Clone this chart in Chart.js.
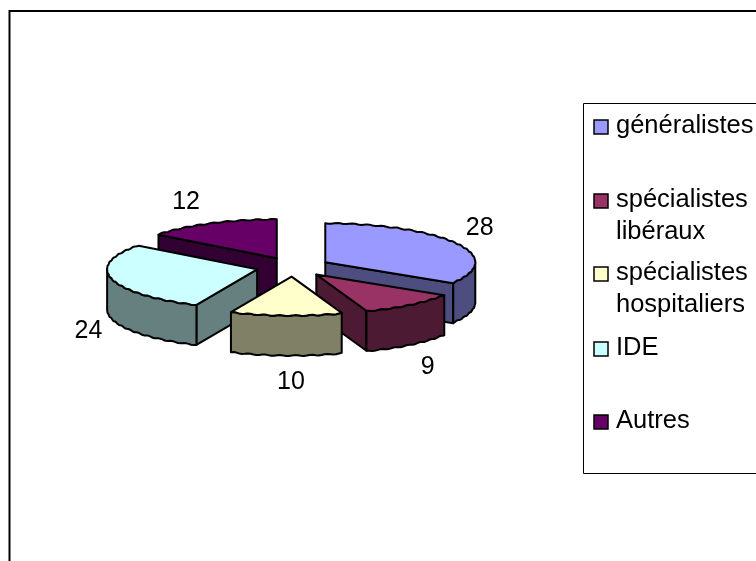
<!DOCTYPE html>
<html lang="fr">
<head>
  <meta charset="UTF-8" />
  <title>Répartition</title>
  <script src="https://cdn.jsdelivr.net/npm/chart.js"></script>
  <style>
    body { margin: 0; background: #fff; overflow: hidden; }
    canvas { display: block; }
  </style>
</head>
<body>
  <canvas id="camembert" width="756" height="561"></canvas>

  <script>
    const categories = ["généralistes", "spécialistes libéraux", "spécialistes hospitaliers", "IDE", "Autres"];
    const valeurs = [28, 9, 10, 24, 12];
    const couleurs = ["#9999FF", "#993366", "#FFFFCC", "#CCFFFF", "#660066"];

    const FONT = "25px 'Liberation Sans', Arial, sans-serif";
    const FONT_LEGENDE = "25.5px 'Liberation Sans', Arial, sans-serif";
    const TILT = 0.26;     // aplatissement vertical de l'ellipse
    const DEPTH = 40;      // hauteur des parts

    // couleur des flancs : moitié de la couleur de la part
    function sombre(hex) {
      const n = parseInt(hex.slice(1), 16);
      const c = [n >> 16, (n >> 8) & 255, n & 255].map(v => Math.round(v / 2));
      return `rgb(${c[0]},${c[1]},${c[2]})`;
    }

    function polygone(ctx, pts, fill) {
      ctx.beginPath();
      pts.forEach((p, i) => i ? ctx.lineTo(p[0], p[1]) : ctx.moveTo(p[0], p[1]));
      ctx.closePath();
      ctx.fillStyle = fill;
      ctx.fill();
      ctx.stroke();
    }

    // les parts d'origine sont remplacées par leur version en relief,
    // à partir des angles et du rayon calculés par Chart.js
    const pie3d = {
      id: "pie3d",
      beforeDraw(chart) {
        const ctx = chart.ctx;
        ctx.save();
        ctx.strokeStyle = "#000";
        ctx.lineWidth = 2;
        ctx.beginPath();
        ctx.moveTo(9.5, 561);
        ctx.lineTo(9.5, 11);
        ctx.lineTo(756, 11);
        ctx.stroke();
        ctx.restore();
      },
      beforeDatasetsDraw(chart, args, opts) {
        const ctx = chart.ctx;
        const arcs = chart.getDatasetMeta(0).data;

        const parts = arcs.map((arc, i) => {
          const mid = (arc.startAngle + arc.endAngle) / 2;
          const off = arc.options.offset;
          const cx = arc.x + off * Math.cos(mid);
          const cy = arc.y + off * TILT * Math.sin(mid);
          return { arc, i, mid, cx, cy };
        });

        ctx.save();
        ctx.lineWidth = 2;
        ctx.lineJoin = "round";
        ctx.strokeStyle = "#000";

        // de l'arrière vers l'avant
        parts.slice().sort((a, b) => Math.sin(a.mid) - Math.sin(b.mid)).forEach(p => {
          const r = p.arc.outerRadius;
          // léger festonnage du contour
          const bord = a => [
            p.cx + r * Math.cos(a),
            p.cy + r * TILT * Math.sin(a) + 0.5 * Math.sin(a * 60)
          ];
          const bas = q => [q[0], q[1] + DEPTH];
          const s = p.arc.startAngle, e = p.arc.endAngle;
          const centre = [p.cx, p.cy];
          const fonce = sombre(couleurs[p.i]);

          const arcPts = (a0, a1) => {
            const n = Math.max(2, Math.ceil((a1 - a0) / 0.02));
            const out = [];
            for (let k = 0; k <= n; k++) out.push(bord(a0 + (a1 - a0) * k / n));
            return out;
          };

          // flancs radiaux tournés vers l'avant
          if (bord(s)[0] < centre[0]) polygone(ctx, [centre, bord(s), bas(bord(s)), bas(centre)], fonce);
          if (bord(e)[0] > centre[0]) polygone(ctx, [centre, bord(e), bas(bord(e)), bas(centre)], fonce);

          // flanc extérieur : seule la moitié avant de l'ellipse se voit
          for (const [lo, hi] of [[0, Math.PI], [2 * Math.PI, 3 * Math.PI]]) {
            const a0 = Math.max(s, lo), a1 = Math.min(e, hi);
            if (a1 > a0) {
              const haut = arcPts(a0, a1);
              polygone(ctx, haut.concat(haut.map(bas).reverse()), fonce);
            }
          }

          polygone(ctx, [centre].concat(arcPts(s, e)), couleurs[p.i]);
        });

        // étiquettes de valeurs
        ctx.font = FONT;
        ctx.fillStyle = "#000";
        ctx.textAlign = "center";
        ctx.textBaseline = "middle";
        parts.forEach(p => {
          const sy = Math.sin(p.mid);
          const x = p.arc.x + opts.labelRadius * Math.cos(p.mid) + opts.labelNudge[p.i];
          const y = p.arc.y + opts.labelRadius * TILT * sy + (sy > 0.1 ? 47 + 13 * sy : -8 + 8 * sy);
          ctx.fillText(String(valeurs[p.i]), x, y);
        });
        ctx.restore();
        return false;
      },
      afterDraw(chart, args, opts) {
        const ctx = chart.ctx;
        const lg = opts.legend;
        ctx.save();
        ctx.strokeStyle = "#000";
        ctx.lineWidth = 1;
        ctx.beginPath();
        ctx.moveTo(756, lg.top + 0.5);
        ctx.lineTo(lg.left + 0.5, lg.top + 0.5);
        ctx.lineTo(lg.left + 0.5, lg.bottom + 0.5);
        ctx.lineTo(756, lg.bottom + 0.5);
        ctx.stroke();

        ctx.font = FONT_LEGENDE;
        ctx.textAlign = "left";
        ctx.textBaseline = "alphabetic";
        categories.forEach((nom, i) => {
          const y = lg.baselines[i];
          ctx.lineWidth = 1.5;
          ctx.fillStyle = couleurs[i];
          ctx.fillRect(lg.left + 11, y - 13, 14, 14);
          ctx.strokeRect(lg.left + 11, y - 13, 14, 14);
          ctx.fillStyle = "#000";
          nom.split(" ").forEach((ligne, k) => {
            ctx.fillText(ligne, lg.left + 33, y + k * lg.lineHeight);
          });
        });
        ctx.restore();
      }
    };

    new Chart(document.getElementById("camembert"), {
      type: "pie",
      data: {
        labels: categories,
        datasets: [{
          data: valeurs,
          backgroundColor: couleurs,
          borderWidth: 0,
          offset: 37
        }]
      },
      options: {
        responsive: false,
        animation: false,
        radius: 150,
        layout: { padding: { left: 93, right: 263, top: 67, bottom: 94 } },
        plugins: {
          legend: { display: false },
          tooltip: { enabled: false },
          pie3d: {
            labelRadius: 214,
            labelNudge: [0, 0, 6, 3, -13],
            legend: {
              left: 583, top: 103, bottom: 473, lineHeight: 32,
              baselines: [133, 207, 280, 355, 428]
            }
          }
        }
      },
      plugins: [pie3d]
    });
  </script>
</body>
</html>
